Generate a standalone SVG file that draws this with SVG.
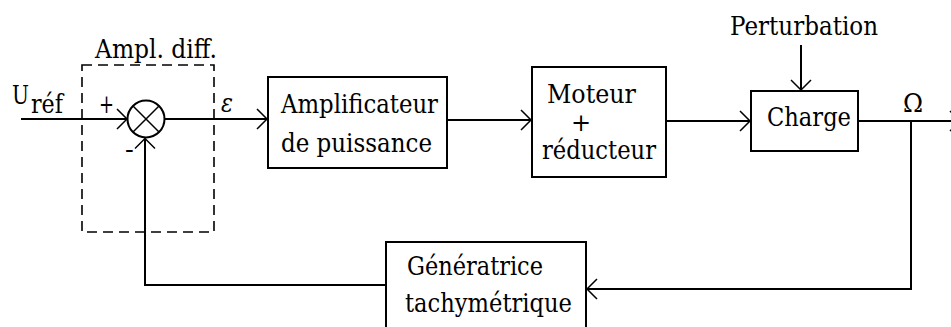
<svg xmlns="http://www.w3.org/2000/svg" width="951" height="327" viewBox="0 0 951 327">
  <defs>
    <style>
      .blk { fill: #fff; stroke: #000; stroke-width: 2; }
      .wire { fill: none; stroke: #000; stroke-width: 2; }
      text { font-family: "DejaVu Serif", serif; font-size: 26px; fill: #000; }
    </style>
    <marker id="arr" markerUnits="userSpaceOnUse" markerWidth="24" markerHeight="24" viewBox="-12 -12 24 24" refX="0" refY="0" orient="auto">
      <path d="M-10,-10 L0,0 L-10,10" fill="none" stroke="#000" stroke-width="1.5"/>
    </marker>
  </defs>
  <rect width="951" height="327" fill="#fff"/>

  <!-- differential amplifier (dashed frame + summing junction) -->
  <g id="ampl-diff">
    <rect x="82" y="65" width="132" height="167" fill="none" stroke="#000" stroke-width="1.6" stroke-dasharray="10,6"/>
    <text x="95" y="58" textLength="122" lengthAdjust="spacingAndGlyphs">Ampl. diff.</text>
  </g>
  <g id="sum">
    <circle cx="146" cy="119" r="18.5" fill="#fff" stroke="#000" stroke-width="2"/>
    <path d="M133,106 L159,132 M159,106 L133,132" stroke="#000" stroke-width="1.5"/>
    <text x="99" y="113" textLength="15" lengthAdjust="spacingAndGlyphs">+</text>
    <text x="125" y="158">-</text>
  </g>

  <!-- signal labels -->
  <g id="labels">
    <text x="12" y="104" textLength="17" lengthAdjust="spacingAndGlyphs">U</text>
    <text x="31" y="113" textLength="32" lengthAdjust="spacingAndGlyphs">réf</text>
    <text x="221" y="112" font-style="italic" textLength="12" lengthAdjust="spacingAndGlyphs">ε</text>
    <text x="903" y="112" textLength="20" lengthAdjust="spacingAndGlyphs">Ω</text>
    <text x="730" y="35" textLength="148" lengthAdjust="spacingAndGlyphs">Perturbation</text>
  </g>

  <g id="amplificateur">
    <rect class="blk" x="268" y="77" width="179" height="91"/>
    <text x="281" y="113" textLength="157" lengthAdjust="spacingAndGlyphs">Amplificateur</text>
    <text x="281" y="152" textLength="151" lengthAdjust="spacingAndGlyphs">de puissance</text>
  </g>

  <g id="moteur">
    <rect class="blk" x="532" y="67" width="134" height="110"/>
    <text x="547" y="103" textLength="89" lengthAdjust="spacingAndGlyphs">Moteur</text>
    <text x="581" y="131" text-anchor="middle" style="font-size:24px">+</text>
    <text x="542" y="159" textLength="114" lengthAdjust="spacingAndGlyphs">réducteur</text>
  </g>

  <g id="charge">
    <rect class="blk" x="751" y="91" width="107" height="60"/>
    <text x="767" y="126" textLength="84" lengthAdjust="spacingAndGlyphs">Charge</text>
  </g>

  <g id="generatrice">
    <rect class="blk" x="386" y="242" width="200" height="100"/>
    <text x="407" y="275" textLength="136" lengthAdjust="spacingAndGlyphs">Génératrice</text>
    <text x="405" y="312" textLength="167" lengthAdjust="spacingAndGlyphs">tachymétrique</text>
  </g>

  <!-- connectors -->
  <g id="connectors">
    <path class="wire" d="M21,119 L127,119" marker-end="url(#arr)"/>
    <path class="wire" d="M165,119 L267,119" marker-end="url(#arr)"/>
    <path class="wire" d="M447,120 L531,120" marker-end="url(#arr)"/>
    <path class="wire" d="M666,121 L750,121" marker-end="url(#arr)"/>
    <path class="wire" d="M801,45 L801,90" marker-end="url(#arr)"/>
    <path class="wire" d="M858,121 L960,121" marker-end="url(#arr)"/>
    <path class="wire" d="M911,121 L911,289 L587,289" marker-end="url(#arr)"/>
    <path class="wire" d="M386,285 L145,285 L145,138.5" marker-end="url(#arr)"/>
  </g>
</svg>
